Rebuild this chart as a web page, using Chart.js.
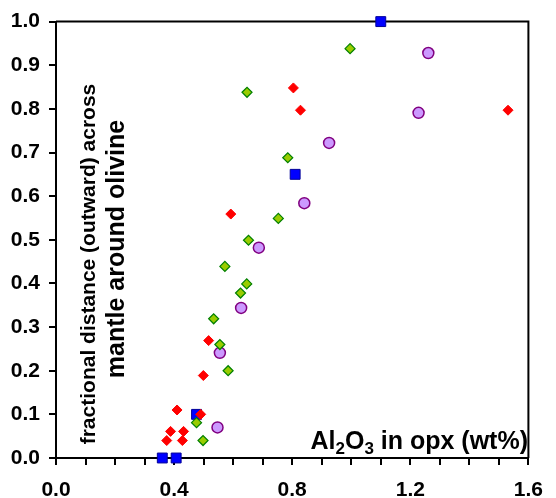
<!DOCTYPE html>
<html><head><meta charset="utf-8">
<script src="https://cdn.jsdelivr.net/npm/chart.js@4/dist/chart.umd.min.js"></script>
<style>html,body{margin:0;padding:0;background:#fff}#wrap{width:556px;height:498px;position:relative}</style>
</head><body><div id="wrap"><canvas id="c"></canvas></div>
<script>
// Data
const redX = [0.41, 0.49, 0.388, 0.432, 0.375, 0.428, 0.517, 0.499, 0.592, 0.804, 0.828, 1.531];
const redY = [0.11, 0.10, 0.061, 0.061, 0.040, 0.040, 0.269, 0.189, 0.559, 0.848, 0.797, 0.797];
const greenX = [0.476, 0.498, 0.646, 0.625, 0.534, 0.555, 0.583, 0.753, 0.652, 0.572, 0.647, 0.785, 0.996];
const greenY = [0.081, 0.040, 0.399, 0.378, 0.319, 0.260, 0.200, 0.549, 0.499, 0.439, 0.838, 0.688, 0.938];
const purpleX = [0.547, 0.627, 0.555, 0.841, 0.687, 0.925, 1.261, 1.228];
const purpleY = [0.070, 0.344, 0.241, 0.584, 0.482, 0.722, 0.928, 0.791];
const blueX = [0.36, 0.407, 0.476, 0.81, 1.10];
const blueY = [0.0, 0.0, 0.10, 0.65, 1.0];
const xTickLabels = ['0.0', '0.4', '0.8', '1.2', '1.6'];
const yTitleLines = ['fractional distance (outward) across', 'mantle around olivine'];

const pts = (xs, ys) => xs.map((x, i) => ({x: x, y: ys[i]}));
const FONT = '"Liberation Sans", Arial, sans-serif';

const titlePlugin = {
  id: 'titles',
  afterDraw(chart) {
    const ctx = chart.ctx;
    ctx.save();
    ctx.fillStyle = '#000';
    ctx.textAlign = 'center';
    ctx.textBaseline = 'middle';
    const yl = [[89, 264, 21], [117, 249, 25]];
    yTitleLines.forEach((t, i) => {
      ctx.save();
      ctx.font = 'bold ' + yl[i][2] + 'px ' + FONT;
      ctx.translate(yl[i][0], yl[i][1]);
      ctx.rotate(-Math.PI / 2);
      ctx.fillText(t, 0, 0);
      ctx.restore();
    });
    // x title with subscripts
    const parts = [['Al', false], ['2', true], ['O', false], ['3', true], [' in opx (wt%)', false]];
    const big = 'bold 25px ' + FONT, small = 'bold 17px ' + FONT;
    let total = 0;
    parts.forEach(p => { ctx.font = p[1] ? small : big; total += ctx.measureText(p[0]).width; });
    let x = 528 - total;
    const base = 449;
    ctx.textAlign = 'left';
    ctx.textBaseline = 'alphabetic';
    parts.forEach(p => {
      ctx.font = p[1] ? small : big;
      ctx.fillText(p[0], x, p[1] ? base + 5 : base);
      x += ctx.measureText(p[0]).width;
    });
    ctx.restore();
  }
};

new Chart(document.getElementById('c'), {
  type: 'scatter',
  data: {
    datasets: [
      {label: 'red', data: pts(redX, redY), pointStyle: 'rectRot', radius: 5,
       backgroundColor: '#ff0000', borderColor: '#ff0000', borderWidth: 1},
      {label: 'green', data: pts(greenX, greenY), pointStyle: 'rectRot', radius: 5,
       backgroundColor: '#99cc00', borderColor: '#008000', borderWidth: 1.2},
      {label: 'purple', data: pts(purpleX, purpleY), pointStyle: 'circle', radius: 5.5,
       backgroundColor: '#cc99ff', borderColor: '#800080', borderWidth: 1.5},
      {label: 'blue', data: pts(blueX, blueY), pointStyle: 'rect', radius: 7,
       backgroundColor: '#0000ff', borderColor: '#000099', borderWidth: 1}
    ]
  },
  options: {
    responsive: true,
    maintainAspectRatio: false,
    animation: false,
    clip: false,
    layout: {padding: {top: 20, right: 16, left: 0, bottom: 0}},
    plugins: {legend: {display: false}, tooltip: {enabled: false}},
    elements: {point: {hoverRadius: 5}},
    scales: {
      x: {
        type: 'linear', min: 0, max: 1.6,
        afterFit(s) { s.height = 40; },
        border: {display: true, color: '#000', width: 2},
        grid: {drawOnChartArea: false, drawTicks: true, tickLength: 7, color: '#000', lineWidth: 2},
        ticks: {
          stepSize: 0.1, autoSkip: false, maxRotation: 0, padding: 13, color: '#000',
          font: {family: FONT, size: 21, weight: 'bold'},
          callback(v) {
            const k = v / 0.4;
            if (Math.abs(k - Math.round(k)) < 1e-6) return xTickLabels[Math.round(k)];
            return '';
          }
        }
      },
      y: {
        type: 'linear', min: 0, max: 1.0,
        afterFit(s) { s.width = 56; },
        border: {display: true, color: '#000', width: 2},
        grid: {drawOnChartArea: false, drawTicks: true, tickLength: 7, color: '#000', lineWidth: 2},
        ticks: {
          stepSize: 0.1, autoSkip: false, padding: 9, color: '#000',
          font: {family: FONT, size: 21, weight: 'bold'},
          callback(v) { return v.toFixed(1); }
        }
      }
    }
  },
  plugins: [titlePlugin, {
    id: 'frame',
    beforeDatasetsDraw(chart) {
      const a = chart.chartArea, ctx = chart.ctx;
      ctx.save();
      ctx.strokeStyle = '#000'; ctx.lineWidth = 2;
      ctx.beginPath();
      ctx.moveTo(a.left, a.top); ctx.lineTo(a.right, a.top); ctx.lineTo(a.right, a.bottom);
      ctx.stroke();
      ctx.restore();
    }
  }]
});
</script>
</body></html>
